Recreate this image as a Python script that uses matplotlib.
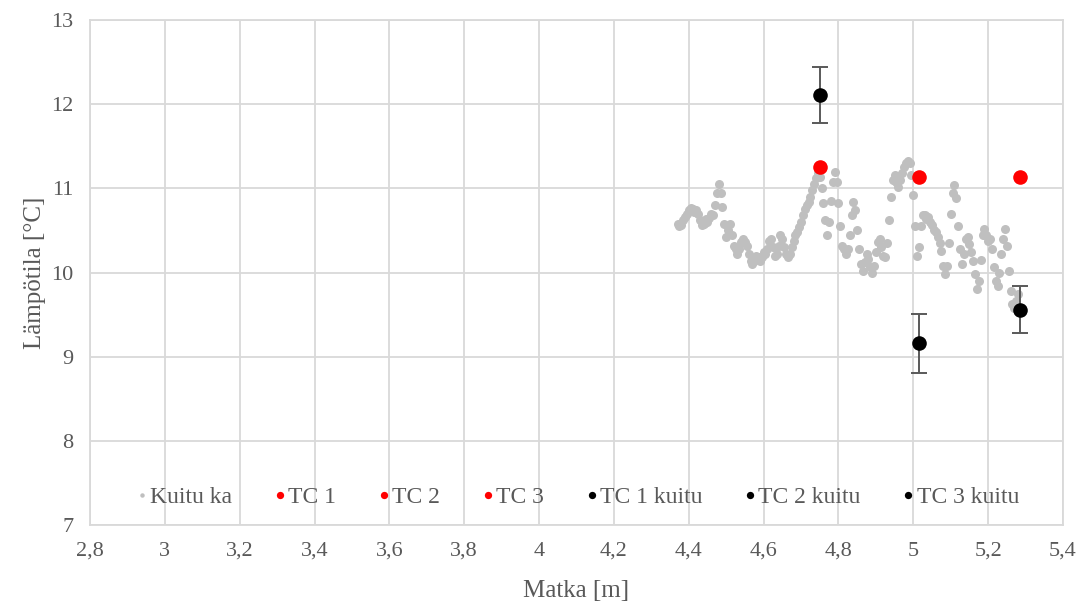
import matplotlib
matplotlib.use("Agg")
import matplotlib.pyplot as plt
from matplotlib.ticker import FuncFormatter, MultipleLocator
import numpy as np

kuitu_x0 = 4.370
kuitu_step = 0.005
kuitu_y = [
    10.58, 10.55, 10.57, 10.62, 10.66, 10.70, 10.74, 10.77, 10.76, 10.72,
    10.74, 10.70, 10.62, 10.56, 10.58, 10.63, 10.60, 10.65, 10.70, 10.68,
    10.80, 10.95, 11.05, 10.95, 10.78, 10.58, 10.42, 10.50, 10.58, 10.45,
    10.32, 10.28, 10.22, 10.28, 10.36, 10.40, 10.36, 10.32, 10.22, 10.14,
    10.10, 10.14, 10.20, 10.18, 10.14, 10.18, 10.24, 10.22, 10.28, 10.38,
    10.40, 10.30, 10.20, 10.22, 10.32, 10.44, 10.40, 10.30, 10.22, 10.18,
    10.22, 10.30, 10.38, 10.44, 10.48, 10.54, 10.60, 10.68, 10.76, 10.80,
    10.84, 10.90, 10.98, 11.05, 11.12, 11.18, 11.14, 11.00, 10.82, 10.62,
    10.45, 10.60, 10.85, 11.08, 11.20, 11.08, 10.82, 10.55, 10.32, 10.28,
    10.22, 10.28, 10.45, 10.68, 10.84, 10.74, 10.50, 10.28, 10.10, 10.02,
    10.12, 10.22, 10.16, 10.06, 10.00, 10.08, 10.24, 10.36, 10.40, 10.30,
    10.20, 10.18, 10.35, 10.62, 10.90, 11.10, 11.16, 11.08, 11.02, 11.10,
    11.18, 11.25, 11.30, 11.33, 11.30, 11.16, 10.92, 10.55, 10.20, 10.30,
    10.55, 10.68, 10.68, 10.64, 10.66, 10.60, 10.56, 10.50, 10.48, 10.42,
    10.35, 10.25, 10.08, 9.98, 10.08, 10.35, 10.70, 10.94, 11.04, 10.88,
    10.55, 10.28, 10.10, 10.22, 10.40, 10.42, 10.34, 10.24, 10.14, 9.98,
    9.80, 9.90, 10.15, 10.45, 10.52, 10.44, 10.38, 10.40, 10.28, 10.06,
    9.90, 9.84, 10.00, 10.22, 10.40, 10.52, 10.32, 10.02, 9.78, 9.62,
    9.58, 9.66, 9.74,
]
kuitu_x = kuitu_x0 + kuitu_step * np.arange(len(kuitu_y))

# thermocouples
tc_names = ["TC 1", "TC 2", "TC 3"]
tc_x = [4.75, 5.015, 5.285]
tc_y = [11.25, 11.13, 11.13]

# fibre value at thermocouple positions, with error
tck_names = ["TC 1 kuitu", "TC 2 kuitu", "TC 3 kuitu"]
tck_y = [12.11, 9.16, 9.56]
tck_err = [0.33, 0.35, 0.28]

plt.rcParams['font.family'] = ['Liberation Serif', 'DejaVu Serif']
txt = "#595959"

fig = plt.figure(figsize=(10.83, 6.04), dpi=100)
ax = fig.add_axes([90/1083, 1 - 525/604, (1063-90)/1083, (525-20)/604])

ax.plot(kuitu_x, kuitu_y, 'o', color="#BFBFBF", markersize=6.5, markeredgewidth=0,
        label="Kuitu ka", zorder=3)

for i in range(3):
    ax.plot(tc_x[i], tc_y[i], 'o', color="#FF0000", markersize=10.5, markeredgewidth=0,
            label=tc_names[i], zorder=4)

for i in range(3):
    ax.errorbar(tc_x[i], tck_y[i], yerr=tck_err[i], fmt='none', ecolor="#595959",
                elinewidth=1.4, capsize=5.5, capthick=1.4, zorder=4)
for i in range(3):
    ax.plot(tc_x[i], tck_y[i], 'o', color="#000000", markersize=10.5, markeredgewidth=0,
            label=tck_names[i], zorder=5)

ax.set_xlim(2.8, 5.4)
ax.set_ylim(7, 13)
ax.xaxis.set_major_locator(MultipleLocator(0.2))
ax.yaxis.set_major_locator(MultipleLocator(1))
ax.xaxis.set_major_formatter(FuncFormatter(lambda v, p: ("%.1f" % v).rstrip('0').rstrip('.').replace('.', ',')))
ax.yaxis.set_major_formatter(FuncFormatter(lambda v, p: "%d" % round(v)))

ax.grid(True, color="#D9D9D9", linewidth=1.3)
ax.set_axisbelow(True)
for s in ax.spines.values():
    s.set_color("#D9D9D9")
    s.set_linewidth(1.3)
ax.tick_params(length=0, labelsize=16, colors=txt, pad=12)

ax.set_xlabel("Matka [m]", fontsize=18, color=txt, labelpad=14)
ax.set_ylabel("Lämpötila [°C]", fontsize=18, color=txt, labelpad=4)

leg = ax.legend(loc='center', bbox_to_anchor=(0.501, 0.055), ncol=7, frameon=False,
                fontsize=17, markerscale=0.5, handlelength=0.5, handletextpad=0.1,
                columnspacing=1.77, borderaxespad=0)
for t in leg.get_texts():
    t.set_color(txt)
for h in leg.legend_handles:
    if h.get_label() == "Kuitu ka":
        h.set_markersize(3.2)

fig.savefig("out.png", dpi=100)
